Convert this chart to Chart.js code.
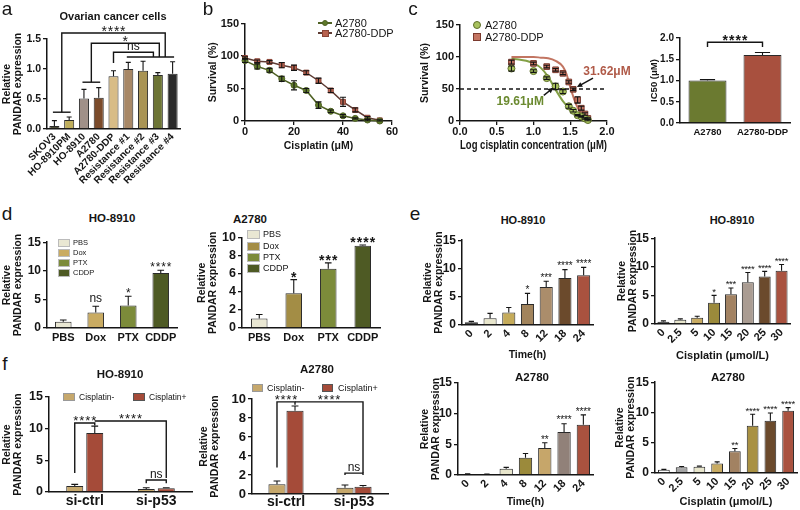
<!DOCTYPE html>
<html>
<head>
<meta charset="utf-8">
<title>PANDAR expression figure</title>
<script src="https://cdn.jsdelivr.net/npm/chart.js@4.4.1/dist/chart.umd.min.js"></script>
<style>
html,body{margin:0;padding:0;background:#fff;}
body{width:800px;height:510px;position:relative;overflow:hidden;font-family:'Liberation Sans',Arial,Helvetica,sans-serif;color:#151515;}
.box{position:absolute;}
.box canvas{display:block;}
.t{position:absolute;white-space:nowrap;line-height:1;}
.sw{position:absolute;box-sizing:border-box;border:1px solid #444;}
</style>
</head>
<body>
<script>
// ================= DATA =================
// (a) Ovarian cancer cells
const aCells = ['SKOV3','HO-8910PM','HO-8910','A2780','A2780-DDP','Resistance #1','Resistance #2','Resistance #3','Resistance #4'];
const aExpr  = [0.05,0.15,0.51,0.52,0.88,1.00,0.97,0.90,0.92];
const aErr   = [0.09,0.05,0.15,0.17,0.09,0.11,0.16,0.04,0.20];

// (b) survival curves
const bDose     = [0,5,10,15,20,25,30,35,40,45,50,55];
const bA2780    = [93,84,78,65,55,47,24.5,15,8,4,1.5,0];
const bA2780Err = [3,4,3,4,7,3,5,2,2,1,1,0];
const bDDP      = [97,92,91,86,82,74.5,62,47,29.5,17,5,1];
const bDDPErr   = [2,2,2,4,4,3,4,3,7,3,2,1];

// (c) log-dose response + fitted curves
const cLogDose  = [0.70,1.00,1.18,1.30,1.40,1.48,1.54,1.60,1.65,1.70,1.74];
const cA2780    = [82,78,67,54,46,23,16,9,7,4,1.5];
const cA2780Err = [4,2,2,5,3,3,2,1,1,1,1];
const cDDP      = [92,90,85,80,74.5,61,49.5,33,20,11,4];
const cDDPErr   = [3,2,2,2,2,2,2,5,3,2,1];
const cFitLog   = [0.70,0.80,0.90,1.00,1.10,1.20,1.30,1.40,1.45,1.50,1.55,1.60,1.65,1.70,1.76];
const cFitA2780 = [97,96,94,90,83,69,49,31,24,17,12,8,5,3,1];
const cFitDDP   = [100,100,100,100,99,98,94,85,73,53,35,21,12,6,3];
const cIC50Labels = ['A2780','A2780-DDP'];
const cIC50       = [1.00,1.60];
const cIC50Err    = [0.02,0.06];
const cIC50Notes  = ['19.61μM','31.62μM'];

// (d) drug treatments
const dTreat      = ['PBS','Dox','PTX','CDDP'];
const dHO8910     = [1.1,2.7,3.95,9.6];
const dHO8910Err  = [0.3,1.1,1.6,0.5];
const dHO8910Sig  = ['','ns','*','****'];
const dA2780      = [1.05,3.85,6.55,9.1];
const dA2780Err   = [0.45,1.5,0.65,0.07];
const dA2780Sig   = ['','*','***','****'];

// (e) time / dose courses
const eTime        = ['0','2','4','8','12','18','24'];
const eDose        = ['0','2.5','5','10','15','20','25','30'];
const eHOTime      = [0.5,1.2,2.2,3.7,6.7,8.3,8.8];
const eHOTimeErr   = [0.15,0.85,0.9,1.9,1.05,1.5,1.4];
const eHOTimeSig   = ['','','','*','***','****','****'];
const eHODose      = [0.4,0.75,1.1,3.7,5.2,7.3,8.3,9.3];
const eHODoseErr   = [0.15,0.15,0.25,1.3,1.1,1.7,0.9,1.1];
const eHODoseSig   = ['','','','*','***','****','****','****'];
const eA2Time      = [0.16,0.1,1.0,2.8,4.4,7.0,8.2];
const eA2TimeErr   = [0.05,0.05,0.25,0.7,0.85,1.35,1.6];
const eA2TimeSig   = ['','','','','**','****','****'];
const eA2Dose      = [0.55,0.97,1.03,1.57,3.6,7.8,8.65,10.3];
const eA2DoseErr   = [0.05,0.1,0.1,0.27,0.45,1.9,1.25,0.5];
const eA2DoseSig   = ['','','','','**','****','****','****'];

// (f) p53 knockdown
const fGroups     = ['si-ctrl','si-p53'];
const fSeries     = ['Cisplatin-','Cisplatin+'];
const fHOMinus    = [0.95,0.47];
const fHOMinusErr = [0.25,0.2];
const fHOPlus     = [9.3,0.58];
const fHOPlusErr  = [1.1,0.1];
const fA2Minus    = [1.02,0.67];
const fA2MinusErr = [0.35,0.28];
const fA2Plus     = [8.77,0.77];
const fA2PlusErr  = [0.5,0.13];

// ================= STYLES =================
const aColors = ['#4e4e38','#bfae5c','#a09088','#7b4b2b','#d8bc86','#a88866','#a99454','#6d7535','#2a2a2a'];
const dHOColors = ['#e9e7d3','#c9ab62','#7c8b3a','#4e5a24'];
const dA2Colors = ['#e9e7d3','#a38d45','#7c8b3a','#4e5a24'];
const eHOTimeColors = ['#1f1f1f','#e8e6cc','#c5ab5a','#a2845c','#ab8d6b','#6b4a2c','#a9523f'];
const eHODoseColors = ['#1f1f1f','#e8e6cc','#c8ab62','#9b8a3b','#a28262','#aa9c92','#6b4a2c','#a9523f'];
const eA2TimeColors = ['#1f1f1f','#1f1f1f','#e8e6cc','#9b8a3b','#c6a66a','#918179','#a9523f'];
const eA2DoseColors = ['#ffffff','#a5a5a5','#e8e6cc','#c8ab62','#a28262','#a99142','#6b4a2c','#a9523f'];
const fColors = ['#c6a86c','#a54b39'];
const cIC50Colors = ['#6b7a30','#a8503e'];

// ================= HELPERS =================
const FF = "'Liberation Sans', Arial, Helvetica, sans-serif";
Chart.defaults.font.family = FF;
Chart.defaults.color = '#151515';
const INK = '#151515';
const EXTRAS = {};
let CID = 0;
const REL = ['Relative','PANDAR expression'];

function drawLabel(ctx, text, cx, cy, st) {
  ctx.fillStyle = INK;
  ctx.textBaseline = 'alphabetic';
  ctx.textAlign = 'center';
  if (/^\*+$/.test(text)) {
    ctx.font = (st.bold ? 'bold ' : '') + st.size + 'px ' + FF;
    const n = text.length, base = cy + 0.57 * st.size;
    for (let k = 0; k < n; k++) ctx.fillText('*', cx + (k - (n - 1) / 2) * st.pitch, base);
  } else {
    const s = st.ns || 12;
    ctx.font = s + 'px ' + FF;
    ctx.fillText(text, cx, cy + 0.3 * s);
  }
}

const extrasPlugin = {
  id: 'extras',
  afterDatasetsDraw(chart) {
    const ex = EXTRAS[chart.canvas.id] || {};
    const ctx = chart.ctx, xs = chart.scales.x, ys = chart.scales.y;
    const st = ex.star || {size: 10, pitch: 4};
    ctx.save();
    chart.data.datasets.forEach((ds, di) => {
      const meta = chart.getDatasetMeta(di);
      const isBar = meta.type === 'bar';
      meta.data.forEach((el, i) => {
        const raw = ds.data[i];
        const v = (raw !== null && typeof raw === 'object') ? raw.y : raw;
        const e = ds.errors ? ds.errors[i] : 0;
        if (e) {
          const x = el.x, yt = ys.getPixelForValue(v + e);
          const yb = isBar ? el.y : ys.getPixelForValue(v - e);
          const hw = isBar ? Math.max(2.5, el.width * 0.2) : 3;
          ctx.strokeStyle = INK; ctx.lineWidth = 1.1; ctx.setLineDash([]);
          ctx.beginPath();
          ctx.moveTo(x, yb); ctx.lineTo(x, yt);
          ctx.moveTo(x - hw, yt); ctx.lineTo(x + hw, yt);
          if (!isBar) { ctx.moveTo(x - hw, yb); ctx.lineTo(x + hw, yb); }
          ctx.stroke();
        }
        const m = ds.marks ? ds.marks[i] : '';
        if (m) {
          const top = ys.getPixelForValue(v + (e || 0));
          drawLabel(ctx, m, el.x, top - (m === 'ns' ? 8 : 6), st);
        }
      });
    });
    const px = s => Array.isArray(s) ? chart.getDatasetMeta(s[0]).data[s[1]].x : xs.getPixelForValue(s);
    (ex.brackets || []).forEach(b => {
      const x1 = px(b.x1), x2 = px(b.x2), y = ys.getPixelForValue(b.y);
      ctx.strokeStyle = INK; ctx.lineWidth = 1.4; ctx.setLineDash([]);
      ctx.beginPath();
      if (b.y1 != null) { ctx.moveTo(x1, ys.getPixelForValue(b.y1)); ctx.lineTo(x1, y); } else { ctx.moveTo(x1, y); }
      ctx.lineTo(x2, y);
      if (b.y2 != null) ctx.lineTo(x2, ys.getPixelForValue(b.y2));
      ctx.stroke();
      if (b.text) drawLabel(ctx, b.text, (x1 + x2) / 2, y - (b.text === 'ns' ? 6 : 5), st);
    });
    (ex.hlines || []).forEach(h => {
      ctx.strokeStyle = INK; ctx.lineWidth = 1.3; ctx.setLineDash([4, 3]);
      const y = ys.getPixelForValue(h.y);
      ctx.beginPath(); ctx.moveTo(xs.getPixelForValue(h.x1), y); ctx.lineTo(xs.getPixelForValue(h.x2), y); ctx.stroke();
      ctx.setLineDash([]);
    });
    (ex.arrows || []).forEach(a => {
      const x1 = xs.getPixelForValue(a.from[0]), y1 = ys.getPixelForValue(a.from[1]);
      const x2 = xs.getPixelForValue(a.to[0]), y2 = ys.getPixelForValue(a.to[1]);
      const ang = Math.atan2(y2 - y1, x2 - x1), hl = 6;
      ctx.strokeStyle = INK; ctx.fillStyle = INK; ctx.lineWidth = 1.5;
      ctx.beginPath(); ctx.moveTo(x1, y1); ctx.lineTo(x2 - 4 * Math.cos(ang), y2 - 4 * Math.sin(ang)); ctx.stroke();
      ctx.beginPath(); ctx.moveTo(x2, y2);
      ctx.lineTo(x2 - hl * Math.cos(ang - 0.45), y2 - hl * Math.sin(ang - 0.45));
      ctx.lineTo(x2 - hl * Math.cos(ang + 0.45), y2 - hl * Math.sin(ang + 0.45));
      ctx.closePath(); ctx.fill();
    });
    (ex.texts || []).forEach(t => {
      ctx.fillStyle = t.color; ctx.font = 'bold ' + t.size + 'px ' + FF;
      ctx.textAlign = 'center'; ctx.textBaseline = 'middle';
      ctx.fillText(t.text, xs.getPixelForValue(t.x), ys.getPixelForValue(t.y));
    });
    ctx.restore();
  }
};

function make(box, pad, config, extras) {
  const L = box[0] - pad.l, T = box[1] - pad.t;
  const W = box[2] - box[0] + pad.l + pad.r, H = box[3] - box[1] + pad.t + pad.b;
  const d = document.createElement('div');
  d.className = 'box';
  d.style.left = L + 'px'; d.style.top = T + 'px'; d.style.width = W + 'px'; d.style.height = H + 'px';
  const c = document.createElement('canvas');
  c.id = 'chart' + (CID++);
  c.width = W; c.height = H; c.style.width = W + 'px'; c.style.height = H + 'px';
  d.appendChild(c); document.body.appendChild(d);
  EXTRAS[c.id] = extras || {};
  const o = config.options || {};
  o.responsive = false; o.animation = false; o.devicePixelRatio = 1; o.events = [];
  o.layout = {autoPadding: false, padding: {left: 0, top: pad.t, right: pad.r, bottom: 0}};
  o.plugins = {legend: {display: false}, tooltip: {enabled: false}};
  o.scales.x.afterFit = s => { s.height = pad.b; };
  o.scales.y.afterFit = s => { s.width = pad.l; };
  config.options = o;
  config.plugins = [extrasPlugin];
  return new Chart(c, config);
}

function yAx(max, step, title, o) {
  o = o || {};
  return {
    type: 'linear', min: 0, max: max,
    ticks: {stepSize: step, color: INK, padding: 2, font: {size: o.ts || 12, weight: 'bold'},
            callback: v => (o.dec ? Number(v).toFixed(o.dec) : String(v))},
    grid: {display: true, drawOnChartArea: false, drawTicks: true, tickLength: 4, color: INK, lineWidth: 1.3},
    border: {display: true, color: INK, width: 1.5},
    title: {display: true, text: title, color: INK, padding: {top: 2, bottom: 0},
            font: {size: o.tts || 10.5, weight: 'bold', lineHeight: o.lh || 1.0}}
  };
}
function xCat(o) {
  o = o || {};
  return {
    type: 'category', offset: true,
    grid: {display: false, drawTicks: false},
    border: {display: true, color: INK, width: 1.5},
    ticks: {color: INK, padding: (o.tp != null ? o.tp : 3), autoSkip: false, maxRotation: o.rot || 0, minRotation: o.rot || 0,
            font: {size: o.ts || 11, weight: 'bold'}},
    title: {display: !!o.title, text: o.title || '', color: INK, padding: {top: 0, bottom: 0},
            font: {size: o.tts || 11, weight: 'bold'}}
  };
}
function xLin(min, max, step, title, dec, tts) {
  return {
    type: 'linear', min: min, max: max,
    ticks: {stepSize: step, color: INK, padding: 0, font: {size: 11, weight: 'bold'},
            callback: v => (dec ? Number(v).toFixed(dec) : String(v))},
    grid: {display: true, drawOnChartArea: false, drawTicks: true, tickLength: 4, color: INK, lineWidth: 1.3},
    border: {display: true, color: INK, width: 1.5},
    title: {display: true, text: title, color: INK, padding: {top: 0, bottom: 0}, font: {size: tts || 11, weight: 'bold'}}
  };
}
function bds(values, errors, colors, marks, bp, cp) {
  return {data: values, errors: errors, marks: marks, backgroundColor: colors, borderColor: '#2a2a2a',
          borderWidth: 1, barPercentage: bp, categoryPercentage: cp || 1};
}
function barCfg(labels, datasets, yMax, yStep, yTitle, xo, yo) {
  return {type: 'bar', data: {labels: labels, datasets: datasets},
          options: {scales: {x: xCat(xo), y: yAx(yMax, yStep, yTitle, yo)}}};
}

// HTML text helpers
function T(s, x, y, o) {
  o = o || {};
  const d = document.createElement('div');
  d.className = 't';
  d.textContent = s;
  d.style.left = x + 'px'; d.style.top = y + 'px';
  d.style.transform = 'translate(' + (o.left ? '0' : '-50%') + ',-50%)';
  d.style.fontSize = (o.size || 11) + 'px';
  d.style.fontWeight = o.bold ? 'bold' : 'normal';
  if (o.color) d.style.color = o.color;
  document.body.appendChild(d);
}
function SW(x, y, w, h, color, o) {
  o = o || {};
  const d = document.createElement('div');
  d.className = 'sw';
  d.style.left = x + 'px'; d.style.top = (y - h / 2) + 'px';
  d.style.width = w + 'px'; d.style.height = h + 'px';
  d.style.background = color;
  if (o.round) d.style.borderRadius = '50%';
  if (o.border) d.style.borderColor = o.border;
  document.body.appendChild(d);
}
function LN(x, y, w, color) {
  const d = document.createElement('div');
  d.style.cssText = 'position:absolute;left:' + x + 'px;top:' + (y - 0.75) + 'px;width:' + w + 'px;height:1.5px;background:' + color + ';';
  document.body.appendChild(d);
}

// ================= PANEL a =================
make([47, 39, 180, 129], {l: 47, t: 22, r: 4, b: 56},
  barCfg(aCells, [bds(aExpr, aErr, aColors, null, 0.68)], 1.5, 0.5, REL,
         {rot: 45, ts: 10, tp: 2}, {ts: 10.5, dec: 1}),
  {star: {size: 14, pitch: 6.2},
   brackets: [
     {x1: -0.1, x2: 1.1, y: 0.28},
     {x1: 1.9, x2: 3.1, y: 0.78},
     {x1: 4.9, x2: 8.1, y: 1.2},
     {x1: 0.5, x2: 7.5, y: 1.6, y1: 0.28, y2: 1.2, text: '****'},
     {x1: 2.5, x2: 7.1, y: 1.43, y1: 0.78, y2: 1.2, text: '*'},
     {x1: 4.0, x2: 6.7, y: 1.28, y1: 1.1, y2: 1.2, text: 'ns'}
   ]});

// ================= PANEL b =================
make([245, 23, 392, 121], {l: 40, t: 8, r: 10, b: 31}, {
  type: 'line',
  data: {datasets: [
    {data: bDose.map((x, i) => ({x: x, y: bA2780[i]})), errors: bA2780Err, borderColor: '#4f6224', borderWidth: 1.5,
     pointStyle: 'circle', pointRadius: 3, pointBackgroundColor: '#5e7a2a', pointBorderColor: '#4f6224', pointBorderWidth: 1, clip: false},
    {data: bDose.map((x, i) => ({x: x, y: bDDP[i]})), errors: bDDPErr, borderColor: '#5e3b33', borderWidth: 1.5,
     pointStyle: 'rect', pointRadius: 3.5, pointBackgroundColor: '#b8624f', pointBorderColor: '#8a4437', pointBorderWidth: 1, clip: false}
  ]},
  options: {scales: {x: xLin(0, 60, 20, 'Cisplatin (μM)', 0, 10.5), y: yAx(150, 50, 'Survival (%)', {ts: 11, lh: 1.2})}}
});

// ================= PANEL c (left) =================
make([460, 25, 607, 121], {l: 43, t: 10, r: 32, b: 32}, {
  type: 'scatter',
  data: {datasets: [
    {data: cFitLog.map((x, i) => ({x: x, y: cFitA2780[i]})), showLine: true, pointRadius: 0, borderColor: '#83a046',
     borderWidth: 2, cubicInterpolationMode: 'monotone', clip: false, order: 3},
    {data: cFitLog.map((x, i) => ({x: x, y: cFitDDP[i]})), showLine: true, pointRadius: 0, borderColor: '#c27562',
     borderWidth: 2, cubicInterpolationMode: 'monotone', clip: false, order: 4},
    {data: cLogDose.map((x, i) => ({x: x, y: cA2780[i]})), errors: cA2780Err, pointStyle: 'circle', pointRadius: 3.5,
     pointBackgroundColor: '#a8c25e', pointBorderColor: '#5d6e2a', pointBorderWidth: 1, clip: false, order: 1},
    {data: cLogDose.map((x, i) => ({x: x, y: cDDP[i]})), errors: cDDPErr, pointStyle: 'rect', pointRadius: 4,
     pointBackgroundColor: '#c47562', pointBorderColor: '#7b3a2e', pointBorderWidth: 1, clip: false, order: 2}
  ]},
  options: {scales: {x: xLin(0, 2, 0.5, 'Log cisplatin concentration (μM)', 1, 12), y: yAx(150, 50, 'Survival (%)', {ts: 11, lh: 1.2})}}
}, {
  hlines: [{y: 50, x1: 0, x2: 2}],
  arrows: [{from: [1.81, 67], to: [1.59, 53]}, {from: [1.14, 40], to: [1.27, 52]}],
  texts: [{text: cIC50Notes[1], x: 2.0, y: 76.5, color: '#b05a48', size: 12},
          {text: cIC50Notes[0], x: 0.82, y: 29.5, color: '#6b8a30', size: 12}]
});

// ================= PANEL c (right) =================
make([680, 38, 790, 123], {l: 33, t: 14, r: 6, b: 20},
  barCfg(cIC50Labels, [bds(cIC50, cIC50Err, cIC50Colors, null, 0.69)], 2.0, 0.5, 'IC50 (μM)',
         {ts: 9.5, tp: 4}, {ts: 10, dec: 1, tts: 9.5, lh: 1.2}),
  {star: {size: 14, pitch: 6.5, bold: true}, brackets: [{x1: 0, x2: 1, y: 1.9, y1: 1.79, y2: 1.79, text: '****'}]});

// ================= PANEL d =================
make([47, 241, 177, 328], {l: 47, t: 8, r: 5, b: 18},
  barCfg(dTreat, [bds(dHO8910, dHO8910Err, dHOColors, dHO8910Sig, 0.51)], 15, 5, REL, {ts: 11, tp: 3}, {ts: 12}),
  {star: {size: 12, pitch: 5.5}});
make([242, 236, 380, 328], {l: 47, t: 8, r: 5, b: 18},
  barCfg(dTreat, [bds(dA2780, dA2780Err, dA2Colors, dA2780Sig, 0.48)], 10, 2, REL, {ts: 11, tp: 3}, {ts: 12.5}),
  {star: {size: 14, pitch: 6.5, bold: true}});

// ================= PANEL e =================
make([462, 239, 593, 325], {l: 41, t: 8, r: 5, b: 36},
  barCfg(eTime, [bds(eHOTime, eHOTimeErr, eHOTimeColors, eHOTimeSig, 0.7)], 15, 5, REL,
         {rot: 45, ts: 11, tp: 2, title: 'Time(h)', tts: 10.5}, {ts: 12, lh: 1.05}),
  {star: {size: 10, pitch: 3.8}});
make([655, 237, 790, 324], {l: 40, t: 8, r: 8, b: 39},
  barCfg(eDose, [bds(eHODose, eHODoseErr, eHODoseColors, eHODoseSig, 0.71)], 15, 5, REL,
         {rot: 45, ts: 11, tp: 2, title: 'Cisplatin (μmol/L)', tts: 11}, {ts: 12, lh: 1.05}),
  {star: {size: 9.5, pitch: 3.3}});
make([458, 383, 593, 475], {l: 40, t: 10, r: 5, b: 33},
  barCfg(eTime, [bds(eA2Time, eA2TimeErr, eA2TimeColors, eA2TimeSig, 0.69)], 15, 5, REL,
         {rot: 45, ts: 11, tp: 2, title: 'Time(h)', tts: 10.5}, {ts: 12, lh: 1.05}),
  {star: {size: 10, pitch: 3.8}});
make([655, 381, 797, 473], {l: 42, t: 8, r: 3, b: 36},
  barCfg(eDose, [bds(eA2Dose, eA2DoseErr, eA2DoseColors, eA2DoseSig, 0.66)], 15, 5, REL,
         {rot: 45, ts: 11, tp: 2, title: 'Cisplatin (μmol/L)', tts: 11}, {ts: 12, lh: 1.05}),
  {star: {size: 9.5, pitch: 3.5}});

// ================= PANEL f =================
make([49, 397, 192, 492], {l: 49, t: 10, r: 5, b: 16}, {
  type: 'bar',
  data: {labels: fGroups, datasets: [
    Object.assign(bds(fHOMinus, fHOMinusErr, fColors[0], null, 0.85, 0.56), {label: fSeries[0]}),
    Object.assign(bds(fHOPlus, fHOPlusErr, fColors[1], null, 0.85, 0.56), {label: fSeries[1]})
  ]},
  options: {scales: {x: xCat({ts: 14, tp: 1}), y: yAx(15, 5, REL, {ts: 12.5})}}
}, {star: {size: 13, pitch: 6}, ns: 12,
    brackets: [
      {x1: [0, 0], x2: [1, 0], y: 10.9, y1: 3.0, y2: 10.5, text: '****'},
      {x1: [1, 0], x2: [1, 1], y: 11.2, y2: 2.2, text: '****'},
      {x1: [0, 1], x2: [1, 1], y: 1.9, y1: 1.4, y2: 1.4, text: 'ns'}
    ]});
make([252, 399, 388, 494], {l: 55, t: 10, r: 6, b: 16}, {
  type: 'bar',
  data: {labels: fGroups, datasets: [
    Object.assign(bds(fA2Minus, fA2MinusErr, fColors[0], null, 0.95, 0.53), {label: fSeries[0]}),
    Object.assign(bds(fA2Plus, fA2PlusErr, fColors[1], null, 0.95, 0.53), {label: fSeries[1]})
  ]},
  options: {scales: {x: xCat({ts: 14, tp: 0}), y: yAx(10, 2, REL, {ts: 13})}}
}, {star: {size: 13, pitch: 5.8},
    brackets: [
      {x1: [0, 0], x2: [1, 0], y: 9.7, y1: 2.8, y2: 9.4, text: '****'},
      {x1: [1, 0], x2: [1, 1], y: 9.7, y2: 2.2, text: '****'},
      {x1: [0, 1], x2: [1, 1], y: 2.2, y1: 2.0, y2: 2.0, text: 'ns'}
    ]});

// ================= TEXT, TITLES, LEGENDS =================
T('a', 7, 8.4, {size: 19}); T('b', 208, 8.4, {size: 19}); T('c', 413, 8.4, {size: 19});
T('d', 7, 213.4, {size: 19}); T('e', 415, 213.4, {size: 19}); T('f', 5, 363.4, {size: 19});

T('Ovarian cancer cells', 113, 16, {size: 11, bold: true});
T('HO-8910', 112, 219, {size: 11.5, bold: true});
T('A2780', 250, 220, {size: 11.5, bold: true});
T('HO-8910', 523, 220, {size: 11, bold: true});
T('HO-8910', 732, 220, {size: 11, bold: true});
T('A2780', 532, 378, {size: 11.5, bold: true});
T('A2780', 728, 378, {size: 11.5, bold: true});
T('HO-8910', 120, 375, {size: 11.5, bold: true});
T('A2780', 317, 370, {size: 11.5, bold: true});

// b legend
LN(318, 23, 14, '#4f6224'); SW(322, 23, 6, 6, '#5e7a2a', {round: true, border: '#4f6224'}); T('A2780', 335, 23, {size: 11, left: true});
LN(318, 33, 14, '#5e3b33'); SW(322, 33, 7, 7, '#b8624f', {border: '#8a4437'}); T('A2780-DDP', 335, 33, {size: 11, left: true});
// c legend
SW(473, 25, 8, 8, '#a8c25e', {round: true, border: '#5d6e2a'}); T('A2780', 485, 25, {size: 11, left: true});
SW(473, 37, 8, 8, '#c47562', {border: '#7b3a2e'}); T('A2780-DDP', 485, 37, {size: 11, left: true});
// d legends
[243, 253, 263, 273].forEach((y, i) => { SW(58, y, 12, 8, dHOColors[i], {border: '#bbb'}); T(dTreat[i], 73, y, {size: 7.5, left: true}); });
[234, 246, 257, 268].forEach((y, i) => { SW(247, y, 13, 9, dA2Colors[i], {border: '#bbb'}); T(dTreat[i], 263, y, {size: 9, left: true}); });
// f legends
SW(63, 397, 12, 8, fColors[0], {border: '#999'}); T(fSeries[0], 79, 397, {size: 8.5, left: true});
SW(133, 397, 12, 8, fColors[1], {border: '#555'}); T(fSeries[1], 149, 397, {size: 8.5, left: true});
SW(252, 388, 11, 8, fColors[0], {border: '#999'}); T(fSeries[0], 267, 388, {size: 9, left: true});
SW(322, 388, 11, 8, fColors[1], {border: '#555'}); T(fSeries[1], 338, 388, {size: 9, left: true});
</script>
</body>
</html>
